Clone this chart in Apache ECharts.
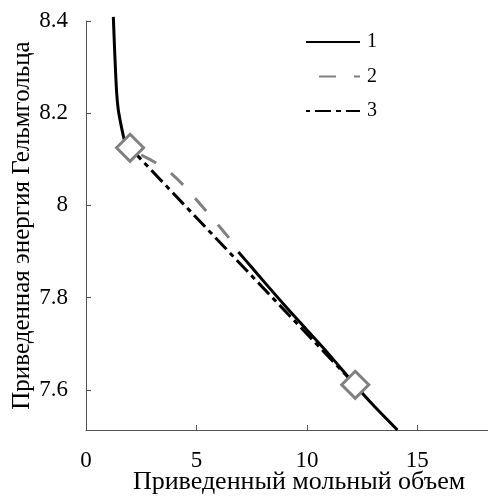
<!DOCTYPE html>
<html>
<head>
<meta charset="utf-8">
<script src="https://cdn.jsdelivr.net/npm/echarts@6/dist/echarts.min.js"></script>
<style>
html,body{margin:0;padding:0;background:#fff;}
#chart{width:488px;height:499px;}
</style>
</head>
<body>
<div id="chart"></div>
<script>
// Reduced molar volume / reduced Helmholtz energy
var curve1a = [[1.237,8.409],[1.314,8.316],[1.39,8.243],[1.463,8.207],[1.572,8.178],[1.663,8.157],[1.767,8.138],[1.994,8.125]];
var curve1b = [[6.9,7.899],[7.5,7.866],[8,7.838],[9,7.783],[10,7.730],[11,7.677],[12,7.621],[13,7.567],[14.1,7.513]];
var curve2 = [[1.992,8.125],[2.535,8.109],[3.214,8.091],[3.893,8.068],[4.572,8.036],[5.206,8.001],[5.840,7.966],[6.519,7.927]];
var curve3 = [[1.994,8.125],[12.19,7.611]];
var coexist = [[1.994,8.125],[12.19,7.611]];
var xTicks = [0,5,10,15];
var yTicks = [7.6,7.8,8,8.2,8.4];
var legendNames = ['1','2','3'];
var xTitle = 'Приведенный мольный объем';
var yTitle = 'Приведенная энергия Гельмгольца';

var FONT = 'Liberation Serif';
var labelRich = {t:{fontFamily:FONT,fontSize:23,color:'#000'}};
var chart = echarts.init(document.getElementById('chart'), null, {renderer:'canvas'});
chart.setOption({
  animation:false,
  textStyle:{fontFamily:FONT},
  grid:{left:86,right:0,top:21,bottom:69,containLabel:false,outerBoundsMode:'none'},
  legend:{
    data:legendNames,
    orient:'vertical',
    left:300, top:27,
    itemWidth:54, itemHeight:14, itemGap:14.5,
    itemStyle:{opacity:0},
    textStyle:{color:'#000',fontFamily:FONT,fontSize:20,padding:[0,0,0,2]},
    selectedMode:false
  },
  xAxis:{
    type:'value', min:0, max:18.2,
    name:xTitle, nameLocation:'middle', nameGap:39, nameMoveOverlap:false,
    axisLine:{show:true,lineStyle:{color:'#555',width:1}},
    axisTick:{show:true,inside:true,length:5,customValues:xTicks,lineStyle:{color:'#555'}},
    axisLabel:{customValues:xTicks,margin:19,color:'#000',fontFamily:FONT,fontSize:23,
      formatter:function(v){return '{t|'+String(+(+v).toFixed(1))+'}';},rich:labelRich},
    splitLine:{show:false},
    nameTextStyle:{color:'#000',fontFamily:FONT,fontSize:26,padding:[0,0,0,24]}
  },
  yAxis:{
    type:'value', min:7.513, max:8.4,
    name:yTitle, nameLocation:'middle', nameGap:51, nameMoveOverlap:false,
    axisLine:{show:true,lineStyle:{color:'#555',width:1}},
    axisTick:{show:true,inside:true,length:5,customValues:yTicks,lineStyle:{color:'#555'}},
    axisLabel:{customValues:yTicks,margin:18,color:'#000',fontFamily:FONT,fontSize:23,
      formatter:function(v){return '{t|'+String(+(+v).toFixed(1))+'}';},rich:labelRich},
    splitLine:{show:false},
    nameTextStyle:{color:'#000',fontFamily:FONT,fontSize:25}
  },
  series:[
    {name:'2',type:'line',data:curve2,symbol:'none',smooth:0.2,z:2,
     lineStyle:{color:'#808080',width:3,type:[17,18],dashOffset:22},itemStyle:{color:'#808080',opacity:0}},
    {name:'3',type:'line',data:curve3,symbol:'none',z:3,
     lineStyle:{color:'#000',width:3,type:[16,5,5,5]},itemStyle:{color:'#000',opacity:0}},
    {name:'1',type:'line',data:curve1a,symbol:'none',smooth:0.3,clip:false,z:4,
     lineStyle:{color:'#000',width:3,type:'solid'},itemStyle:{color:'#000',opacity:0}},
    {name:'1',type:'line',data:curve1b,symbol:'none',smooth:0.3,z:4,
     lineStyle:{color:'#000',width:3,type:'solid'},itemStyle:{color:'#000',opacity:0}},
    {name:'coexist',type:'scatter',data:coexist,symbol:'diamond',symbolSize:27,z:10,
     itemStyle:{color:'#fff',borderColor:'#808080',borderWidth:3,opacity:1}}
  ]
});
</script>
</body>
</html>
